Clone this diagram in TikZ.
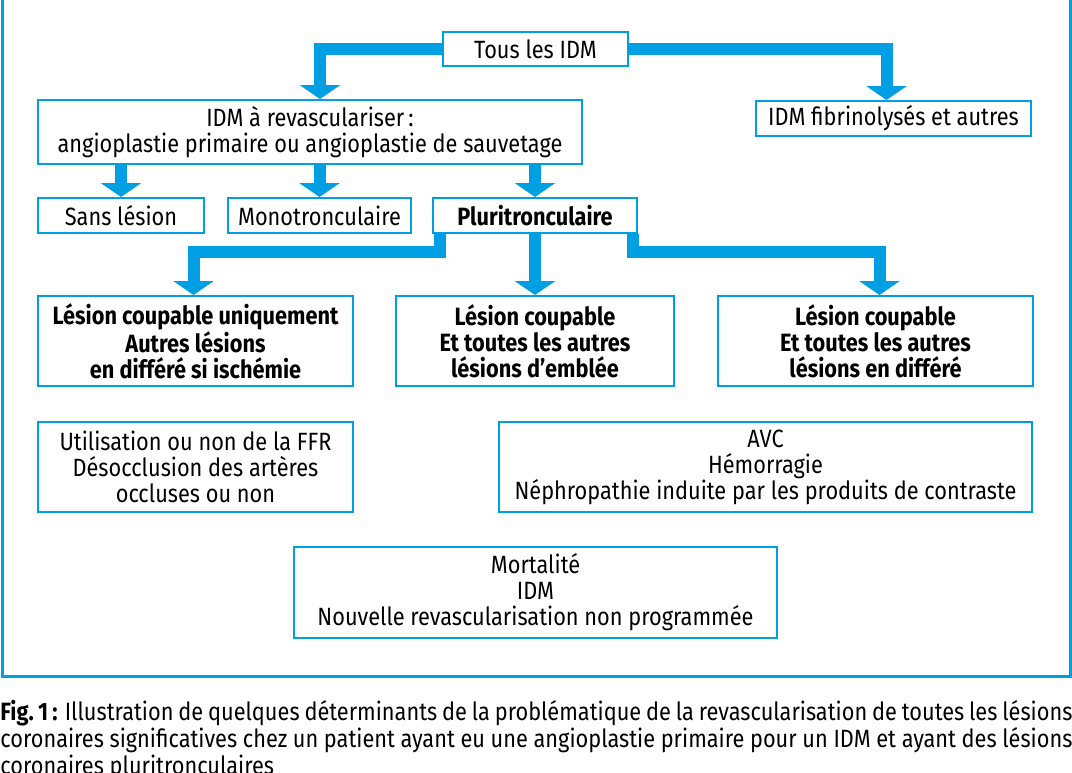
\documentclass[tikz,border=0pt]{standalone}
\usepackage{fontspec}
\setmainfont{Fira Sans}[FakeStretch=0.87]
\usetikzlibrary{arrows.meta}
\definecolor{idmblue}{RGB}{0,158,226}
\tikzset{
  box/.style={draw=idmblue, line width=1pt, fill=white, align=center, inner sep=0pt,
    font=\fontsize{12.5}{13}\selectfont},
  boldbox/.style={box, font=\fontsize{12.5}{13}\selectfont\bfseries},
  flow/.style={draw=idmblue, line width=6pt, -{Triangle[width=20pt,length=7pt]}},
}
\begin{document}
\begin{tikzpicture}[x=0.5pt,y=-0.5pt]
        % Fix the page size
        \useasboundingbox (0,0) rectangle (1072,772);

        % Outer frame
        \draw[idmblue, line width=1.5pt] (2,-10) rectangle (1070,676);

        % Top levels
        \node[box, minimum width=92.5pt, minimum height=17pt] (tous) at (535.5,49) {Tous les IDM};
        \node[box, minimum width=272pt, minimum height=32pt] (revasc) at (310,132)
            {IDM à revasculariser\,:\\angioplastie primaire ou angioplastie de sauvetage};
        \node[box, minimum width=137.5pt, minimum height=17.5pt] (fibrino) at (893.5,118.5) {IDM fibrinolysés et autres};

        % Kind of lesions
        \node[box, minimum width=83pt, minimum height=17.5pt] (sans) at (121,215.5) {Sans lésion};
        \node[box, minimum width=91.5pt, minimum height=17.5pt] (mono) at (319.5,215.5) {Monotronculaire};
        \node[boldbox, minimum width=102pt, minimum height=17.5pt] (pluri) at (535,215.5) {Pluritronculaire};

        % Strategies
        \node[boldbox, minimum width=157.5pt, minimum height=45pt] (coupable) at (195.5,341)
            {Lésion coupable uniquement\\Autres lésions\\en différé si ischémie};
        \node[boldbox, minimum width=139pt, minimum height=45pt] (emblee) at (535,341)
            {Lésion coupable\\Et toutes les autres\\lésions d’emblée};
        \node[boldbox, minimum width=157.5pt, minimum height=45pt] (differe) at (875.5,341)
            {Lésion coupable\\Et toutes les autres\\lésions en différé};

        % Determinants
        \node[box, minimum width=157.5pt, minimum height=45pt] (ffr) at (195.5,467)
            {Utilisation ou non de la FFR\\Désocclusion des artères\\occluses ou non};
        \node[box, minimum width=266.5pt, minimum height=45pt] (avc) at (765.5,467)
            {AVC\\Hémorragie\\Néphropathie induite par les produits de contraste};
        \node[box, minimum width=241.5pt, minimum height=45.5pt] (mort) at (535.5,592.5)
            {Mortalité\\IDM\\Nouvelle revascularisation non programmée};

        % Arrows from the top
        \draw[flow] (tous.west) -| ([xshift=5pt]revasc.north);
        \draw[flow] (tous.east) -| ([xshift=-3.5pt]fibrino.north);
        \draw[flow] (revasc.south -| sans) -- (sans.north);
        \draw[flow] (revasc.south -| mono) -- (mono.north);
        \draw[flow] (revasc.south -| pluri) -- (pluri.north);

        % Arrows from the multivessel box
        \coordinate (split) at (535,252);
        \draw[flow] ([xshift=4pt]pluri.south west) -- ([xshift=4pt]pluri.south west |- split) -| ([xshift=-1pt]coupable.north);
        \draw[flow] (pluri.south) -- (emblee.north);
        \draw[flow] ([xshift=-2.5pt]pluri.south east) -- ([xshift=-2.5pt]pluri.south east |- split) -| ([xshift=2pt]differe.north);

        % Caption
        \node[anchor=north west, text width=536pt, inner sep=0pt, align=justify,
            font=\fontsize{12.5}{13.5}\selectfont] (caption) at (0,700)
            {\textbf{Fig.~1\,:} Illustration de quelques déterminants de la problématique de la revascularisation de toutes les lésions coronaires significatives chez un patient ayant eu une angioplastie primaire pour un IDM et ayant des lésions coronaires pluritronculaires};
\end{tikzpicture}
\end{document}
